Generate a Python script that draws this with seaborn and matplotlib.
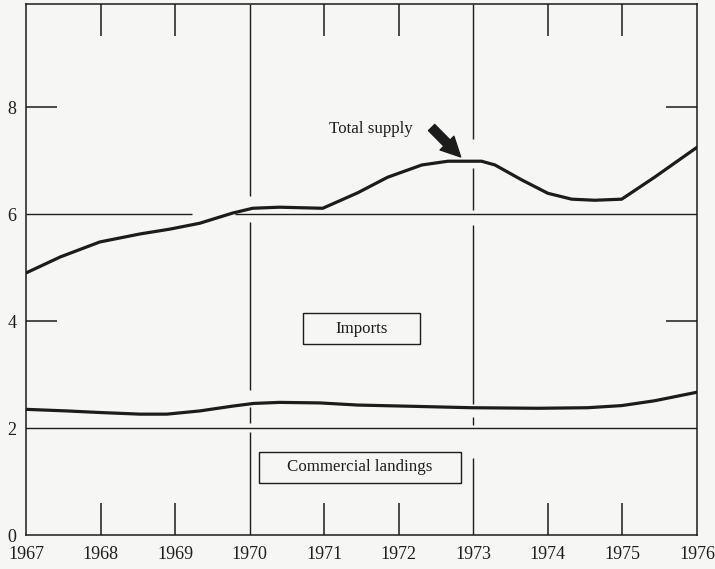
import pandas as pd
import matplotlib
matplotlib.use('Agg')
import matplotlib.pyplot as plt
import matplotlib.patches as mpatches
import seaborn as sns

# Values (year, value)
supply_years = [1967.0, 1967.46, 1967.99, 1968.53, 1968.93, 1969.33, 1969.77, 1970.04,
                1970.4, 1970.98, 1971.45, 1971.85, 1972.31, 1972.66, 1973.11, 1973.29,
                1973.65, 1974.0, 1974.32, 1974.63, 1974.99, 1975.43, 1976.0]
supply_vals = [4.9, 5.2, 5.48, 5.63, 5.72, 5.83, 6.02, 6.11,
               6.13, 6.11, 6.4, 6.69, 6.92, 6.99, 6.99, 6.92,
               6.64, 6.39, 6.28, 6.26, 6.28, 6.69, 7.25]

landing_years = [1967.0, 1967.55, 1968.0, 1968.53, 1968.89, 1969.33, 1969.77, 1970.05,
                 1970.4, 1970.94, 1971.45, 1972.08, 1972.98, 1973.87, 1974.53, 1974.99,
                 1975.43, 1976.0]
landing_vals = [2.35, 2.32, 2.29, 2.26, 2.26, 2.32, 2.41, 2.46,
                2.48, 2.47, 2.43, 2.41, 2.38, 2.37, 2.38, 2.42,
                2.51, 2.67]

year_labels = list(range(1967, 1977))
y_labels = [0, 2, 4, 6, 8]

supply = pd.DataFrame({'year': supply_years, 'value': supply_vals})
landings = pd.DataFrame({'year': landing_years, 'value': landing_vals})

sns.set_style('white')
plt.rcParams['font.family'] = ['Liberation Serif', 'DejaVu Serif']

ink = '#1c1c1c'
bg = '#f6f6f4'
YTOP = 9.93

fig = plt.figure(figsize=(7.15, 5.69), dpi=100, facecolor=bg)
ax = fig.add_axes([26 / 715, 1 - 535 / 569, 671 / 715, 531 / 569])
ax.set_facecolor(bg)

# frame lines of the drawing, broken where the curves pass
ax.axhline(2, color=ink, lw=1.0)
ax.hlines(6, 1967, 1969.22, color=ink, lw=1.0)
ax.hlines(6, 1969.8, 1976, color=ink, lw=1.0)
for y0, y1 in [(6.34, YTOP), (2.71, 5.85), (2.09, 2.39), (0, 1.93)]:
    ax.vlines(1970, y0, y1, color=ink, lw=1.0)
for y0, y1 in [(7.4, YTOP), (6.07, 6.86), (2.45, 5.79), (2.06, 2.21), (0, 1.44)]:
    ax.vlines(1973, y0, y1, color=ink, lw=1.0)

sns.lineplot(data=supply, x='year', y='value', ax=ax, color=ink, lw=2.3,
             sort=False, estimator=None)
sns.lineplot(data=landings, x='year', y='value', ax=ax, color=ink, lw=2.3,
             sort=False, estimator=None)

ax.set_xlim(1967, 1976)
ax.set_ylim(0, YTOP)
ax.set_xlabel('')
ax.set_ylabel('')

ax.set_xticks(year_labels)
ax.set_xticklabels([str(y) for y in year_labels])
ax.set_yticks(y_labels)
ax.set_yticklabels([str(v) for v in y_labels])
ax.tick_params(labelsize=13, colors=ink)
ax.tick_params(axis='x', direction='in', length=23, width=1.1, top=True,
               bottom=True, pad=8)
ax.tick_params(axis='y', direction='in', length=22, width=1.1, left=True,
               right=True, pad=7)

# no inner marks where a full line or the frame already is
for t in ax.xaxis.get_major_ticks():
    if t.get_loc() in (1967, 1970, 1973, 1976):
        t.tick1line.set_visible(False)
        t.tick2line.set_visible(False)
for t in ax.yaxis.get_major_ticks():
    if t.get_loc() in (0, 2, 6):
        t.tick1line.set_visible(False)
        t.tick2line.set_visible(False)

for s in ax.spines.values():
    s.set_visible(True)
    s.set_color(ink)
    s.set_linewidth(1.1)

# labels
ax.text(1971.62, 7.6, 'Total supply', fontsize=12.2, color=ink,
        ha='center', va='center')
ax.annotate('', xy=(1972.83, 7.07), xytext=(1972.44, 7.62),
            arrowprops=dict(arrowstyle='simple,head_width=1.0,head_length=1.0,tail_width=0.45',
                            fc=ink, ec=ink, mutation_scale=14, shrinkA=0, shrinkB=0))

ax.add_patch(mpatches.Rectangle((1970.71, 3.57), 1.57, 0.58, fill=False,
                                ec=ink, lw=1.0))
ax.text(1971.5, 3.86, 'Imports', fontsize=12.2, color=ink, ha='center', va='center')

ax.add_patch(mpatches.Rectangle((1970.12, 0.97), 2.71, 0.58, fill=False,
                                ec=ink, lw=1.0))
ax.text(1971.48, 1.27, 'Commercial landings', fontsize=12.2, color=ink,
        ha='center', va='center')

fig.savefig('out.png', dpi=100, facecolor=bg)
